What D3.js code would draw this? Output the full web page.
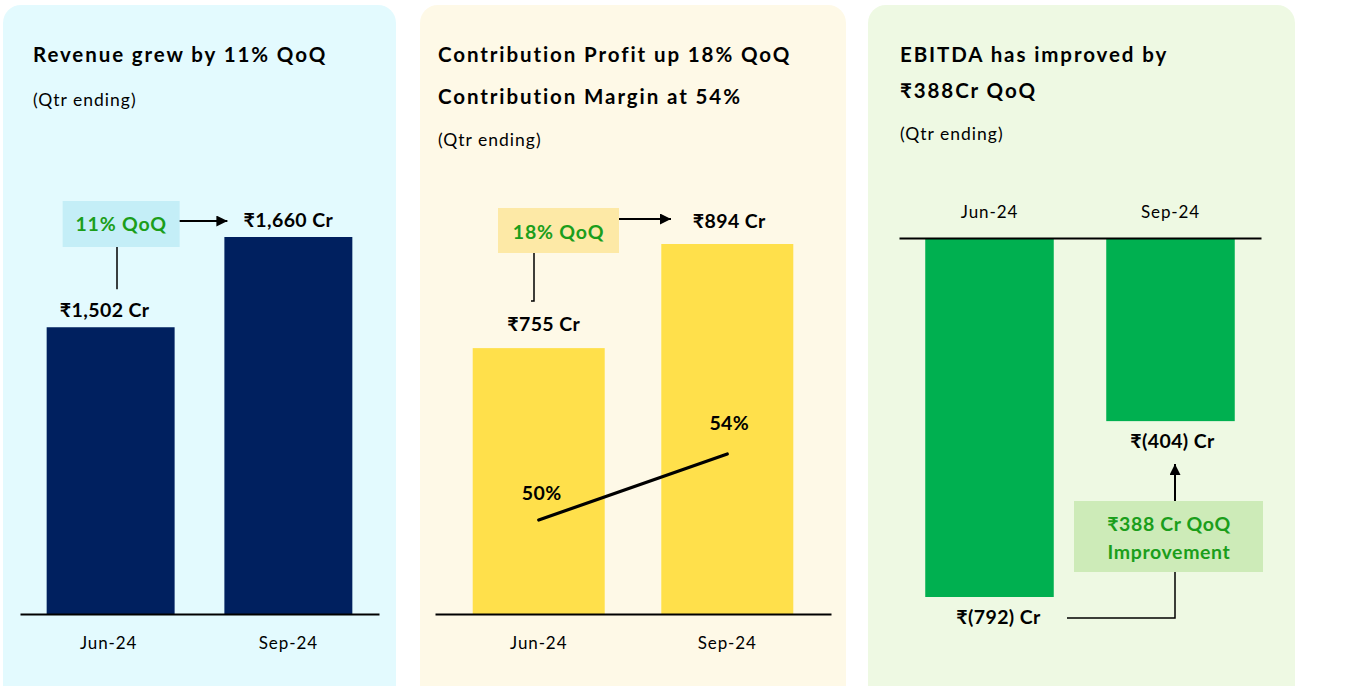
<!DOCTYPE html>
<html><head><meta charset="utf-8">
<script src="https://cdn.jsdelivr.net/npm/d3@7"></script>
<style>
html,body{margin:0;padding:0;background:#fff;}
svg{display:block;}
text{font-family:Lato,"Noto Sans",sans-serif;fill:#000;}
</style></head>
<body>
<svg id="c" width="1346" height="686"></svg>
<script>
// ---- data ----
const categories = ["Jun-24", "Sep-24"];
const revenue = [1502, 1660];
const revenueLabels = ["₹1,502 Cr", "₹1,660 Cr"];
const contribution = [755, 894];
const contributionLabels = ["₹755 Cr", "₹894 Cr"];
const margin = [50, 54];
const marginLabels = ["50%", "54%"];
const ebitda = [-792, -404];
const ebitdaLabels = ["₹(792) Cr", "₹(404) Cr"];
const titles1 = ["Revenue grew by 11% QoQ"];
const titles2 = ["Contribution Profit up 18% QoQ", "Contribution Margin at 54%"];
const titles3 = ["EBITDA has improved by", "₹388Cr QoQ"];
const subtitle = "(Qtr ending)";
const note1 = ["11% QoQ"];
const note2 = ["18% QoQ"];
const note3 = ["₹388 Cr QoQ", "Improvement"];

const svg = d3.select("#c");
const defs = svg.append("defs");
defs.append("marker").attr("id","ah").attr("viewBox","0 0 10 10")
  .attr("refX",10).attr("refY",5).attr("markerWidth",5.5).attr("markerHeight",5.5)
  .attr("markerUnits","strokeWidth").attr("orient","auto")
  .append("path").attr("d","M0,0L10,5L0,10Z").attr("fill","#000");

const GREEN_TXT = "#1b9e1b";

function panel(x, w, fill) {
  svg.append("rect").attr("x", x).attr("y", 5).attr("width", w).attr("height", 720)
    .attr("rx", 18).attr("fill", fill);
}
function titles(x, lines, y0, step) {
  lines.forEach((t, i) => svg.append("text").attr("x", x).attr("y", y0 + i * step)
    .attr("font-size", 20.5).attr("font-weight", 700).attr("letter-spacing", 1.9).text(t));
}
function sub(x, y) {
  svg.append("text").attr("x", x).attr("y", y).attr("font-size", 17.5).attr("letter-spacing", 1.0).text(subtitle);
}
function styleAxis(g) {
  g.select(".domain").attr("stroke", "#000").attr("stroke-width", 2.2);
  g.selectAll(".tick text").attr("font-size", 17).attr("letter-spacing", 0.9)
    .style("font-family", "Lato, 'Noto Sans', sans-serif").attr("fill", "#000");
}
function valueLabel(x, y, t) {
  svg.append("text").attr("x", x).attr("y", y).attr("text-anchor", "middle")
    .attr("font-size", 19.5).attr("font-weight", 700).attr("letter-spacing", 0.4).text(t);
}

// ---- panels ----
panel(3, 393, "#e3fafe");
panel(420, 426, "#fef9e7");
panel(868, 427, "#eef9e3");

// ===== Panel 1: Revenue =====
titles(33, titles1, 62, 42);
sub(33, 106);
const x1 = d3.scaleBand().domain(categories).range([20, 379]).paddingInner(0.28).paddingOuter(0.15);
const y1 = d3.scaleLinear().domain([1000, 1660]).range([614, 237]);
svg.append("g").selectAll("rect").data(revenue).join("rect")
  .attr("x", (d, i) => x1(categories[i])).attr("width", x1.bandwidth())
  .attr("y", d => y1(d)).attr("height", d => y1(1000) - y1(d)).attr("fill", "#00205f");
revenue.forEach((d, i) => valueLabel(x1(categories[i]) + x1.bandwidth() / 2 - (i === 0 ? 6 : -0), y1(d) - 10, revenueLabels[i]));
const ax1 = svg.append("g").attr("transform", `translate(0,${y1(1000)})`)
  .call(d3.axisBottom(x1).tickSize(0).tickPadding(23));
styleAxis(ax1);
ax1.selectAll(".tick text").attr("dx", (d, i) => i === 0 ? -2 : 0);
// annotation
{
  const bx = x1(categories[0]) + 16, by = 201, bw = 117, bh = 46;
  svg.append("rect").attr("x", bx).attr("y", by).attr("width", bw).attr("height", bh).attr("fill", "#c4eef7");
  svg.append("text").attr("x", bx + bw / 2).attr("y", by + 30).attr("text-anchor", "middle")
    .attr("font-size", 19.5).attr("font-weight", 700).attr("letter-spacing", 0.8).style("fill", GREEN_TXT).text(note1[0]);
  svg.append("line").attr("x1", 117).attr("x2", 117).attr("y1", by + bh).attr("y2", y1(revenue[0]) - 38)
    .attr("stroke", "#000").attr("stroke-width", 1.5);
  svg.append("line").attr("x1", bx + bw).attr("x2", x1(categories[1]) + 3).attr("y1", 221).attr("y2", 221)
    .attr("stroke", "#000").attr("stroke-width", 2).attr("marker-end", "url(#ah)");
}

// ===== Panel 2: Contribution =====
titles(438, titles2, 62, 42);
sub(438, 146);
const x2 = d3.scaleBand().domain(categories).range([435, 831]).paddingInner(0.30).paddingOuter(0.2);
const y2 = d3.scaleLinear().domain([400, 894]).range([614, 244]);
svg.append("g").selectAll("rect").data(contribution).join("rect")
  .attr("x", (d, i) => x2(categories[i])).attr("width", x2.bandwidth())
  .attr("y", d => y2(d)).attr("height", d => y2(400) - y2(d)).attr("fill", "#ffe04b");
contribution.forEach((d, i) => valueLabel(x2(categories[i]) + x2.bandwidth() / 2 + (i === 0 ? 5 : 2), y2(d) - (i === 0 ? 17 : 16), contributionLabels[i]));
const ax2 = svg.append("g").attr("transform", `translate(0,${y2(400)})`)
  .call(d3.axisBottom(x2).tickSize(0).tickPadding(23));
styleAxis(ax2);
// margin line
const ym = d3.scaleLinear().domain([30, 60]).range([850, 355]);
const cx2 = (d, i) => x2(categories[i]) + x2.bandwidth() / 2;
svg.append("path").datum(margin)
  .attr("d", d3.line().x((d, i) => cx2(d, i)).y(d => ym(d)))
  .attr("fill", "none").attr("stroke", "#000").attr("stroke-width", 3.2).attr("stroke-linecap", "round");
margin.forEach((d, i) => svg.append("text").attr("x", cx2(d, i) + (i === 0 ? 3 : 2)).attr("y", ym(d) - 20 - (i === 1 ? 4 : 0))
  .attr("text-anchor", "middle").attr("font-size", 19.5).attr("font-weight", 700).attr("letter-spacing", 0.4).text(marginLabels[i]));
{
  const bx = 498, by = 208, bw = 121, bh = 45;
  svg.append("rect").attr("x", bx).attr("y", by).attr("width", bw).attr("height", bh).attr("fill", "#fde9a6");
  svg.append("text").attr("x", bx + bw / 2).attr("y", by + 31).attr("text-anchor", "middle")
    .attr("font-size", 19.5).attr("font-weight", 700).attr("letter-spacing", 0.8).style("fill", GREEN_TXT).text(note2[0]);
  svg.append("path").attr("d", `M534,${by + bh}V301H531`).attr("fill", "none")
    .attr("stroke", "#000").attr("stroke-width", 1.5);
  svg.append("line").attr("x1", bx + bw).attr("x2", 671).attr("y1", 219).attr("y2", 219)
    .attr("stroke", "#000").attr("stroke-width", 2).attr("marker-end", "url(#ah)");
}

// ===== Panel 3: EBITDA =====
titles(900, titles3, 62, 36);
sub(900, 140);
const x3 = d3.scaleBand().domain(categories).range([899, 1261]).paddingInner(0.29).paddingOuter(0.145);
const y3 = d3.scaleLinear().domain([-792, 0]).range([597, 238]);
svg.append("g").selectAll("rect").data(ebitda).join("rect")
  .attr("x", (d, i) => x3(categories[i])).attr("width", x3.bandwidth())
  .attr("y", y3(0)).attr("height", d => y3(d) - y3(0)).attr("fill", "#00b050");
const ax3 = svg.append("g").attr("transform", `translate(0,${y3(0)})`)
  .call(d3.axisTop(x3).tickSize(0).tickPadding(20));
styleAxis(ax3);
ebitda.forEach((d, i) => valueLabel(x3(categories[i]) + x3.bandwidth() / 2 + (i === 0 ? 9 : 2), y3(d) + 27, ebitdaLabels[i]));
{
  const bx = 1074, by = 501, bw = 189, bh = 71;
  svg.append("rect").attr("x", bx).attr("y", by).attr("width", bw).attr("height", bh).attr("fill", "#cdebb8");
  note3.forEach((t, i) => svg.append("text").attr("x", 1169).attr("y", 531 + i * 28).attr("text-anchor", "middle")
    .attr("font-size", 19.5).attr("font-weight", 700).attr("letter-spacing", 0.6).style("fill", GREEN_TXT).text(t));
  svg.append("line").attr("x1", 1175).attr("x2", 1175).attr("y1", by).attr("y2", 464)
    .attr("stroke", "#000").attr("stroke-width", 2).attr("marker-end", "url(#ah)");
  svg.append("path").attr("d", `M1067,618H1175V${by + bh}`).attr("fill", "none")
    .attr("stroke", "#000").attr("stroke-width", 1.5);
}
</script>
</body></html>
